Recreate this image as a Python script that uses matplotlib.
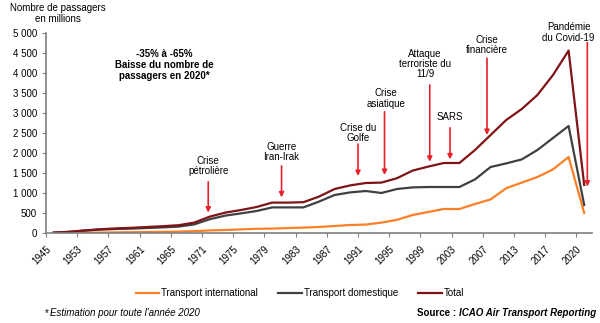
import matplotlib
matplotlib.use("Agg")
import matplotlib.pyplot as plt
import numpy as np

plt.rcParams['font.family'] = ['Liberation Sans', 'DejaVu Sans']

tick_labels = ["1945", "1953", "1957", "1961", "1965", "1971", "1975", "1979", "1983",
               "1987", "1991", "1995", "1999", "2003", "2007", "2013", "2017", "2020"]

total = [10, 30, 65, 95, 115, 130, 150, 170, 195, 260, 410, 510, 575, 650, 760, 760, 770,
         910, 1100, 1190, 1250, 1260, 1370, 1560, 1660, 1750, 1750, 2075, 2450, 2825,
         3100, 3450, 3950, 4560, 1200]
domestique = [9, 28, 60, 85, 100, 110, 125, 140, 160, 215, 345, 435, 490, 550, 640, 640, 640,
              785, 950, 1015, 1050, 1000, 1100, 1140, 1150, 1150, 1150, 1340, 1650, 1740,
              1840, 2075, 2375, 2675, 700]
international = [1, 2, 5, 10, 15, 20, 25, 30, 35, 45, 65, 75, 90, 105, 110, 125, 135,
                 150, 175, 200, 210, 260, 330, 450, 525, 600, 600, 725, 840, 1120,
                 1260, 1400, 1590, 1900, 500]

# events: (label, arrow x in category units, arrow top, arrow tip, text x, text top)
events = [
    ("Crise\npétrolière", 10.4, 1280, 510, 10.4, 1930),
    ("Guerre\nIran-Irak", 15.1, 1675, 890, 15.1, 2280),
    ("Crise du\nGolfe", 20.0, 2225, 1425, 20.0, 2760),
    ("Crise\nasiatique", 21.7, 3030, 1450, 21.8, 3620),
    ("Attaque\nterroriste du\n11/9", 24.6, 3700, 1780, 24.3, 4610),
    ("SARS", 25.9, 2630, 1840, 25.9, 3030),
    ("Crise\nfinancière", 28.27, 4370, 2450, 28.27, 4960),
    ("Pandémie\ndu Covid-19", 34.7, 4760, 1160, 33.5, 5270),
]

orange = "#FF7F27"
grey = "#404040"
maroon = "#7F1416"
red = "#E8202A"

fig = plt.figure(figsize=(6.0, 3.23), dpi=100)
ax = fig.add_axes([46/600, 1-233/323, (592-46)/600, 200/323])

x = np.arange(len(total)) + 0.5
ax.plot(x, international, color=orange, lw=1.6, label="Transport international")
ax.plot(x, domestique, color=grey, lw=1.6, label="Transport domestique")
ax.plot(x, total, color=maroon, lw=1.6, label="Total")

ax.set_xlim(0, 35)
ax.set_ylim(0, 5000)
ax.set_yticks(np.arange(0, 5001, 500))
ax.set_yticklabels([f"{v:,}".replace(",", " ") for v in range(0, 5001, 500)], fontsize=7)
ax.set_xticks(np.arange(0, 2*len(tick_labels), 2))
ax.set_xticklabels(tick_labels, rotation=45, ha="right", rotation_mode="anchor", fontsize=7)
for s in ["top", "right"]:
    ax.spines[s].set_visible(False)
for s in ["left", "bottom"]:
    ax.spines[s].set_color("#808080")
    ax.spines[s].set_linewidth(1.2)
ax.tick_params(axis="both", colors="#808080", length=3, labelcolor="black")
ax.tick_params(axis="x", pad=5)

for label, ax_x, ytop, ytip, tx, ytext in events:
    ax.annotate("", xy=(ax_x, ytip), xytext=(ax_x, ytop),
                arrowprops=dict(arrowstyle="-|>", color=red, lw=1.2,
                                mutation_scale=7, shrinkA=0, shrinkB=0))
    ax.text(tx, ytext, label, ha="center", va="top", fontsize=7, linespacing=1.05,
            clip_on=False)

ax.text(7.6, 4610, "-35% à -65%\nBaisse du nombre de\npassagers en 2020*", ha="center",
        va="top", fontsize=7, fontweight="bold", linespacing=1.15)

fig.text(58/600, 1-3/323, "Nombre de passagers\nen millions", ha="center", va="top",
         fontsize=7, linespacing=1.15)

fig.legend(loc="center", bbox_to_anchor=(300/600, 1-293/323), ncol=3, frameon=False,
           fontsize=7, handlelength=2.4, handletextpad=0.2, columnspacing=2.1)

fig.text(45/600, 1-313/323, "*", ha="left", va="center", fontsize=7)
fig.text(50/600, 1-313/323, "Estimation pour toute l'année 2020", ha="left", va="center",
         fontsize=7, style="italic")
src_it = fig.text(596/600, 1-313/323, "ICAO Air Transport Reporting", ha="right", va="center",
                  fontsize=7, style="italic", fontweight="bold")
fig.canvas.draw()
bb = src_it.get_window_extent(renderer=fig.canvas.get_renderer())
fig.text((bb.x0 - 3) / fig.bbox.width, 1-313/323, "Source :", ha="right", va="center",
         fontsize=7, fontweight="bold")

fig.savefig("out.png", dpi=100)
